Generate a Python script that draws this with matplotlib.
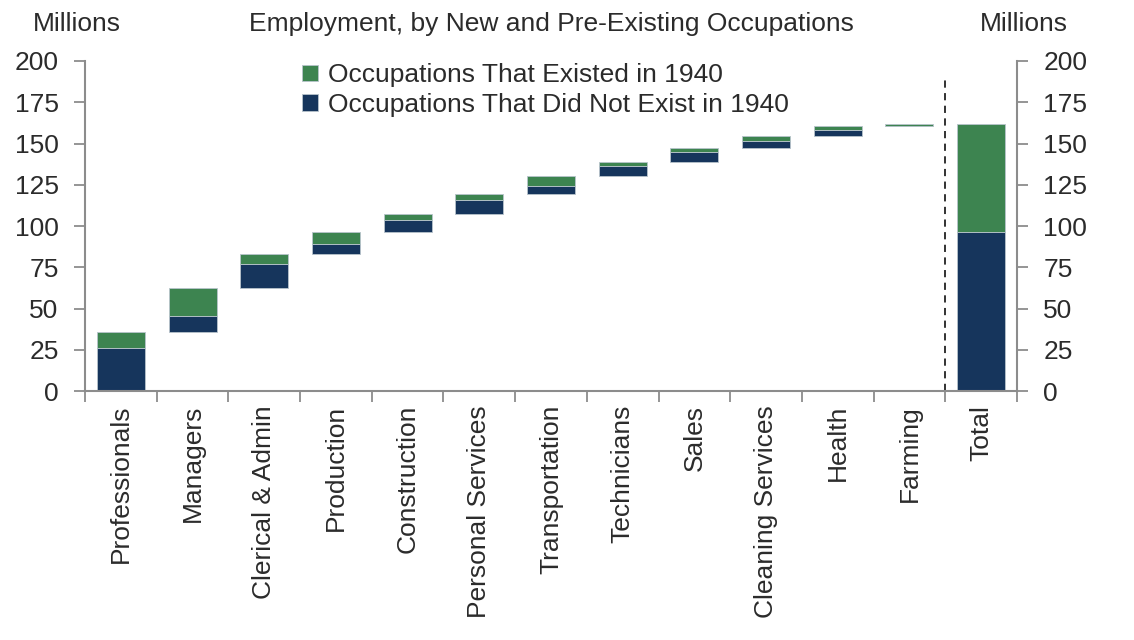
import numpy as np
import matplotlib
matplotlib.use('Agg')
import matplotlib.pyplot as plt

plt.rcParams['font.family'] = ['Liberation Sans', 'DejaVu Sans']

# Occupation groups, in waterfall order
categories = ['Professionals', 'Managers', 'Clerical & Admin', 'Production', 'Construction',
              'Personal Services', 'Transportation', 'Technicians', 'Sales', 'Cleaning Services',
              'Health', 'Farming']
# millions of jobs
did_not_exist = [26.0, 9.5, 14.5, 6.0, 7.0, 8.3, 4.8, 5.9, 6.0, 4.6, 3.5, 0.2]
existed = [10.0, 17.0, 6.2, 7.2, 3.9, 3.7, 6.1, 2.6, 2.5, 2.6, 2.5, 1.4]
yticks = [0, 25, 50, 75, 100, 125, 150, 175, 200]

green = '#3d8450'
navy = '#16355c'
edge = '#b8c4cc'
grey = '#8c8c8c'
txt = '#2b2b2b'
fs = 19

new = np.array(did_not_exist)
old = np.array(existed)
step = new + old
base = np.concatenate([[0], np.cumsum(step)[:-1]])

fig = plt.figure(figsize=(11.34, 6.4), dpi=100)
ax = fig.add_axes([0.075, 0.389, 0.8218, 0.5157])

x = np.arange(len(categories))
w = 0.67
ax.bar(x, new, w, bottom=base, color=navy, edgecolor=edge, linewidth=0.6,
       label='Occupations That Did Not Exist in 1940')
ax.bar(x, old, w, bottom=base + new, color=green, edgecolor=edge, linewidth=0.6,
       label='Occupations That Existed in 1940')

# total column
xt = len(categories)
ax.bar(xt, new.sum(), w, color=navy, edgecolor=edge, linewidth=0.6)
ax.bar(xt, old.sum(), w, bottom=new.sum(), color=green, edgecolor=edge, linewidth=0.6)

ax.plot([xt - 0.5, xt - 0.5], [0, 191], color='#222222', lw=1.3, ls=(0, (4, 3)))

ax.set_xlim(-0.5, xt + 0.5)
ax.set_ylim(0, 200)
ax.set_yticks(yticks)
ax.set_xticks(list(x) + [xt])
ax.set_xticklabels(categories + ['Total'], rotation=90, fontsize=fs, color=txt)
ax.set_xticks(np.arange(-0.5, xt + 1, 1), minor=True)
ax.tick_params(axis='x', which='major', length=0, pad=10)
ax.tick_params(axis='x', which='minor', length=8, width=1.3, color=grey, direction='out')
ax.tick_params(axis='y', length=8, width=1.3, color=grey, labelsize=fs, labelcolor=txt, pad=11)

for s in ['top', 'right']:
    ax.spines[s].set_visible(False)
for s in ['left', 'bottom']:
    ax.spines[s].set_color(grey)
    ax.spines[s].set_linewidth(1.5)

ax2 = ax.twinx()
ax2.set_ylim(0, 200)
ax2.set_yticks(yticks)
ax2.tick_params(axis='y', length=8, width=1.3, color=grey, labelsize=fs, labelcolor=txt, pad=11)
for s in ['top', 'left', 'bottom']:
    ax2.spines[s].set_visible(False)
ax2.spines['right'].set_color(grey)
ax2.spines['right'].set_linewidth(1.5)

handles, labels = ax.get_legend_handles_labels()
ax.legend(handles[::-1], labels[::-1], loc='upper left', bbox_to_anchor=(0.207, 1.065),
          frameon=False, fontsize=fs, handlelength=0.6, handleheight=0.6,
          handletextpad=0.4, labelspacing=0.2, labelcolor=txt)

fig.text(0.068, 0.962, 'Millions', fontsize=fs, color=txt, ha='center', va='center')
fig.text(0.903, 0.962, 'Millions', fontsize=fs, color=txt, ha='center', va='center')
fig.text(0.486, 0.962, 'Employment, by New and Pre-Existing Occupations', fontsize=fs,
         color=txt, ha='center', va='center')

fig.savefig('out.png', dpi=100)
